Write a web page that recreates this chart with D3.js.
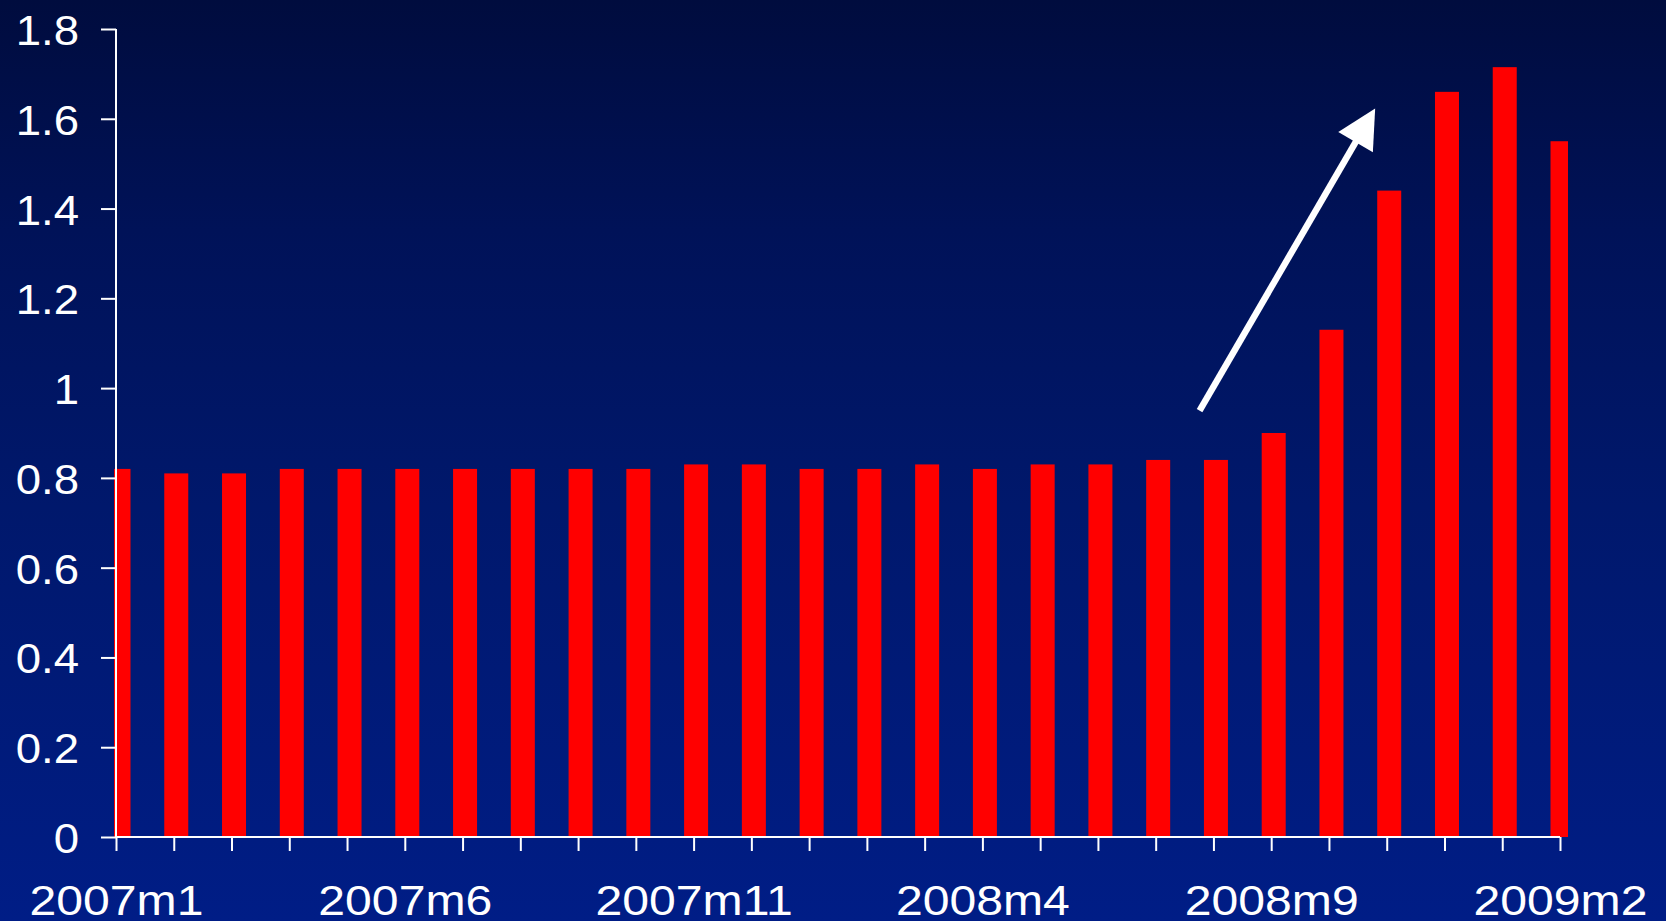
<!DOCTYPE html>
<html>
<head>
<meta charset="utf-8">
<script src="https://cdn.jsdelivr.net/npm/d3@7"></script>
<style>
  html, body { margin: 0; padding: 0; background: #001a78; }
  svg { display: block; }
  text { font-family: "Liberation Sans", Arial, sans-serif; fill: #ffffff; }
</style>
</head>
<body>
<svg id="chart" width="1666" height="921"></svg>
<script>
// Monthly observations, January 2007 to February 2009
const categories = [
  "2007m1","2007m2","2007m3","2007m4","2007m5","2007m6","2007m7","2007m8","2007m9","2007m10","2007m11","2007m12",
  "2008m1","2008m2","2008m3","2008m4","2008m5","2008m6","2008m7","2008m8","2008m9","2008m10","2008m11","2008m12",
  "2009m1","2009m2"
];
const values = [
  0.82, 0.81, 0.81, 0.82, 0.82, 0.82, 0.82, 0.82, 0.82, 0.82, 0.83, 0.83,
  0.82, 0.82, 0.83, 0.82, 0.83, 0.83, 0.84, 0.84, 0.90, 1.13, 1.44, 1.66,
  1.715, 1.55
];
const xTickLabels = ["2007m1", "2007m6", "2007m11", "2008m4", "2008m9", "2009m2"];
const yTicks = [0, 0.2, 0.4, 0.6, 0.8, 1, 1.2, 1.4, 1.6, 1.8];
// Trend arrow, in (category index, value) units
const arrowFrom = [18.76, 0.95];
const arrowTo = [21.80, 1.623];

const svg = d3.select("#chart");
const W = 1666, H = 921;

// Background gradient
const defs = svg.append("defs");
const grad = defs.append("linearGradient")
  .attr("id", "bg").attr("x1", 0).attr("y1", 0).attr("x2", 0).attr("y2", 1);
[[0, "#000c3e"], [0.25, "#001258"], [0.55, "#00186c"], [1, "#001d86"]]
  .forEach(([o, c]) => grad.append("stop").attr("offset", o).attr("stop-color", c));
svg.append("rect").attr("width", W).attr("height", H).attr("fill", "url(#bg)");

// Scales
const x = d3.scalePoint().domain(categories).range([116, 1560]);
const xi = d3.scaleLinear().domain([0, categories.length - 1]).range([116, 1560]);
const y = d3.scaleLinear().domain([0, 1.8]).range([837, 29]);
const barW = 24, barShift = 2.5;

defs.append("clipPath").attr("id", "plot")
  .append("rect").attr("x", 114).attr("y", 0).attr("width", 1568 - 114).attr("height", 838);

// Bars
svg.append("g").attr("clip-path", "url(#plot)")
  .selectAll("rect").data(categories).join("rect")
  .attr("x", (c) => x(c) + barShift - barW / 2)
  .attr("y", (c, i) => y(values[i]))
  .attr("width", barW)
  .attr("height", (c, i) => y(0) - y(values[i]))
  .attr("fill", "#ff0000");

// Axis labels use a slightly widened sans face
const fontPx = 43, stretchX = 1.12, stretchY = 1.06;

// Y axis
const yAxis = svg.append("g").attr("transform", "translate(116,0)")
  .call(d3.axisLeft(y).tickValues(yTicks).tickSize(15).tickPadding(22)
    .tickFormat(d3.format("~g")));
yAxis.select(".domain").attr("d", `M0,${y(1.8)}V${y(0)}`);
yAxis.selectAll(".tick text")
  .attr("x", 0)
  .attr("transform", `translate(-37,0) scale(${stretchY},1)`)
  .attr("dy", "0.36em");

// X axis
const xAxis = svg.append("g").attr("transform", `translate(0,${y(0)})`)
  .call(d3.axisBottom(x).tickSize(14).tickPadding(34)
    .tickFormat((c) => xTickLabels.includes(c) ? c : ""));
xAxis.select(".domain").attr("d", `M${x(categories[0])},0H${x(categories[categories.length - 1])}`);
xAxis.selectAll(".tick text")
  .attr("transform", `scale(${stretchX},1)`)
  .attr("dy", "0.7em");

svg.selectAll(".domain, .tick line").attr("stroke", "#ffffff").attr("stroke-width", 2);
svg.selectAll(".tick text").attr("fill", "#ffffff")
  .style("font-size", fontPx + "px")
  .style("font-family", "'Liberation Sans', Arial, sans-serif");

// Arrow
const x0 = xi(arrowFrom[0]), y0 = y(arrowFrom[1]);
const x1 = xi(arrowTo[0]), y1 = y(arrowTo[1]);
const ang = Math.atan2(y1 - y0, x1 - x0);
const headL = 39, headW = 40;
const bx = x1 - headL * Math.cos(ang), by = y1 - headL * Math.sin(ang);
const px = -Math.sin(ang), py = Math.cos(ang);
svg.append("line")
  .attr("x1", x0).attr("y1", y0).attr("x2", bx + 3 * Math.cos(ang)).attr("y2", by + 3 * Math.sin(ang))
  .attr("stroke", "#ffffff").attr("stroke-width", 6.5);
svg.append("path")
  .attr("d", `M${x1},${y1}L${bx + px * headW / 2},${by + py * headW / 2}L${bx - px * headW / 2},${by - py * headW / 2}Z`)
  .attr("fill", "#ffffff");
</script>
</body>
</html>
